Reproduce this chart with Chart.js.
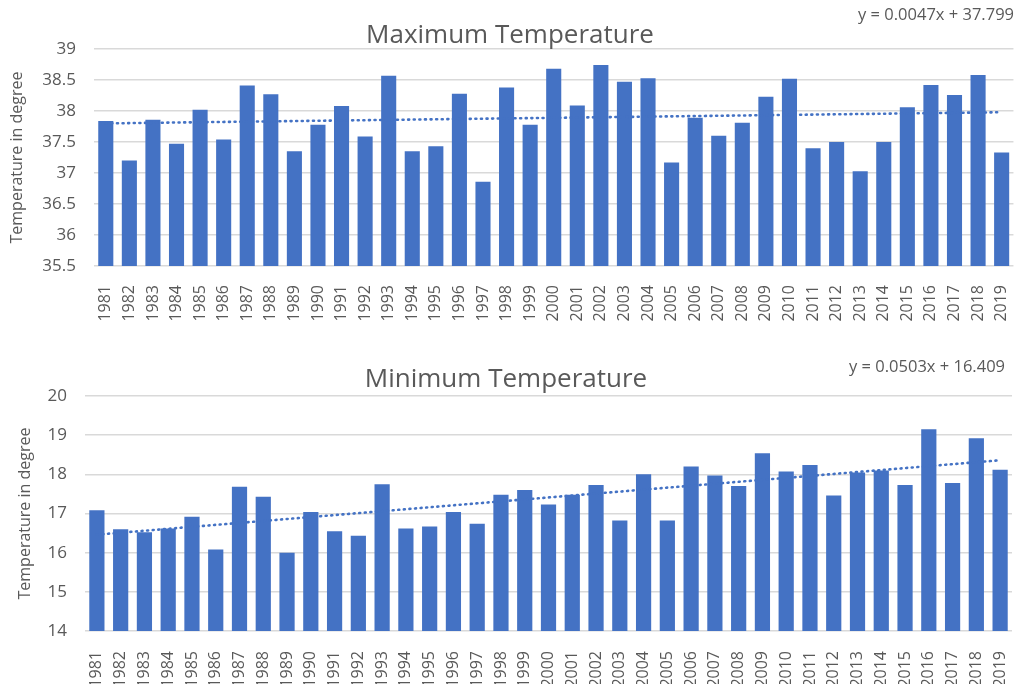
<!DOCTYPE html>
<html>
<head>
<meta charset="utf-8">
<script src="https://cdn.jsdelivr.net/npm/chart.js@4.4.0/dist/chart.umd.min.js"></script>
<style>
  html, body { margin: 0; padding: 0; background: #fff; }
  .box { position: absolute; left: 0; width: 1032px; }
  #top { top: 0; height: 340px; }
  #bot { top: 340px; height: 344px; }
</style>
</head>
<body>
<div class="box" id="top"><canvas id="maxChart"></canvas></div>
<div class="box" id="bot"><canvas id="minChart"></canvas></div>
<script>
const years = ['1981', '1982', '1983', '1984', '1985', '1986', '1987', '1988', '1989', '1990',
  '1991', '1992', '1993', '1994', '1995', '1996', '1997', '1998', '1999', '2000',
  '2001', '2002', '2003', '2004', '2005', '2006', '2007', '2008', '2009', '2010',
  '2011', '2012', '2013', '2014', '2015', '2016', '2017', '2018', '2019'];

const maxTemp = [37.84, 37.20, 37.86, 37.47, 38.02, 37.54, 38.41, 38.27, 37.35, 37.78,
  38.08, 37.59, 38.57, 37.35, 37.43, 38.28, 36.86, 38.38, 37.78, 38.68,
  38.09, 38.74, 38.47, 38.53, 37.17, 37.89, 37.60, 37.81, 38.23, 38.52,
  37.40, 37.50, 37.03, 37.50, 38.06, 38.42, 38.26, 38.58, 37.33];

const minTemp = [17.08, 16.60, 16.52, 16.62, 16.92, 16.08, 17.68, 17.43, 16.00, 17.04,
  16.55, 16.43, 17.75, 16.62, 16.67, 17.04, 16.74, 17.48, 17.60, 17.23,
  17.48, 17.73, 16.82, 18.00, 16.82, 18.20, 17.97, 17.70, 18.54, 18.07,
  18.24, 17.46, 18.05, 18.10, 17.73, 19.15, 17.78, 18.92, 18.12];

// trend line values at first and last year
const maxTrendEnds = [37.80, 37.98];
const minTrendEnds = [16.46, 18.36];

const maxEquation = 'y = 0.0047x + 37.799';
const minEquation = 'y = 0.0503x + 16.409';

const barColor = '#4472C4';
const textColor = '#595959';
const gridColor = '#d9d9d9';
const fontFamily = '"Open Sans", "Noto Sans", sans-serif';

function trendData(ends) {
  return years.map((y, i) => i === 0 ? ends[0] : (i === years.length - 1 ? ends[1] : null));
}

const equationPlugin = {
  id: 'equation',
  afterDraw(chart, args, opts) {
    const ctx = chart.ctx;
    ctx.save();
    ctx.font = '16.5px ' + fontFamily;
    ctx.fillStyle = textColor;
    ctx.textAlign = 'right';
    ctx.textBaseline = 'middle';
    ctx.fillText(opts.text, opts.x, opts.y);
    ctx.restore();
  }
};

function makeChart(id, c) {
  new Chart(document.getElementById(id), {
    type: 'bar',
    data: {
      labels: years,
      datasets: [{
        type: 'line',
        data: trendData(c.trend),
        borderColor: barColor,
        borderWidth: 2.6,
        borderDash: [1, 4.6],
        borderCapStyle: 'round',
        pointRadius: 0,
        spanGaps: true,
        order: 0
      }, {
        data: c.values,
        backgroundColor: barColor,
        barPercentage: 0.64,
        categoryPercentage: 1,
        order: 1
      }]
    },
    options: {
      responsive: true,
      maintainAspectRatio: false,
      animation: false,
      layout: { padding: { left: 0, right: c.rightPad, top: 0, bottom: 0 } },
      scales: {
        x: {
          grid: { display: false },
          border: { display: false },
          ticks: {
            autoSkip: false,
            minRotation: 90,
            maxRotation: 90,
            padding: c.xPad,
            color: textColor,
            font: { family: fontFamily, size: 16 }
          },
          afterFit: s => { s.height = c.xHeight; }
        },
        y: {
          min: c.yMin,
          max: c.yMax,
          ticks: {
            stepSize: c.step,
            padding: 18,
            color: textColor,
            font: { family: fontFamily, size: 17 },
            callback: v => String(v)
          },
          grid: { color: gridColor, lineWidth: 1.5, drawTicks: false },
          border: { display: false },
          title: {
            display: true,
            text: 'Temperature in degree',
            color: textColor,
            font: { family: fontFamily, size: 16 },
            padding: { top: c.yTitlePad, bottom: 0 }
          },
          afterFit: s => { s.width = c.yWidth; }
        }
      },
      plugins: {
        legend: { display: false },
        tooltip: { enabled: false },
        title: {
          display: true,
          text: c.title,
          color: textColor,
          font: { family: fontFamily, size: 26, weight: 'normal', lineHeight: 1 },
          padding: c.titlePad
        },
        equation: { text: c.equation, x: c.eqX, y: c.eqY }
      }
    },
    plugins: [equationPlugin]
  });
}

makeChart('maxChart', {
  values: maxTemp, trend: maxTrendEnds, title: 'Maximum Temperature', equation: maxEquation,
  yMin: 35.5, yMax: 39, step: 0.5, yWidth: 94, xHeight: 74, xPad: 11, rightPad: 12,
  yTitlePad: 8, titlePad: { top: 23, bottom: 0 }, eqX: 1014, eqY: 15
});

makeChart('minChart', {
  values: minTemp, trend: minTrendEnds, title: 'Minimum Temperature', equation: minEquation,
  yMin: 14, yMax: 20, step: 1, yWidth: 85, xHeight: 53, xPad: 12, rightPad: 20,
  yTitlePad: 16, titlePad: { top: 27, bottom: 3 }, eqX: 1005, eqY: 27
});
</script>
</body>
</html>
